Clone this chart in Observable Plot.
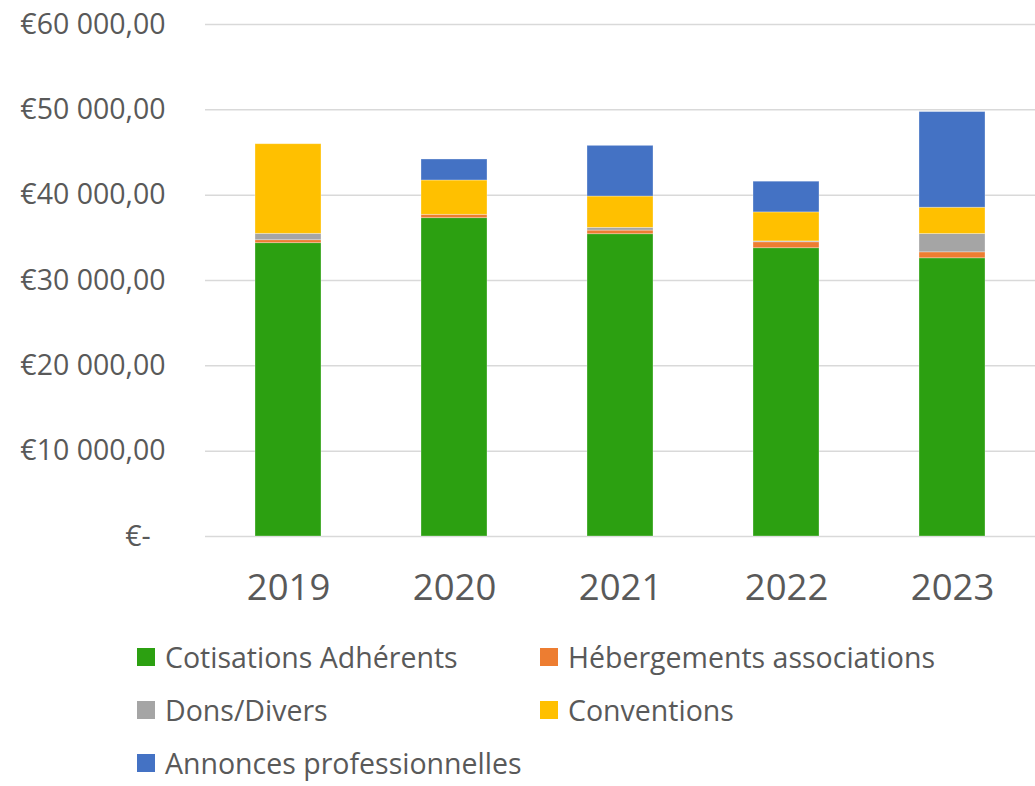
<!DOCTYPE html>
<html><head><meta charset="utf-8">
<script src="https://cdn.jsdelivr.net/npm/d3@7"></script>
<script src="https://cdn.jsdelivr.net/npm/@observablehq/plot@0.6"></script>
<style>
body{margin:0;background:#fff;font-family:"Open Sans",sans-serif;}
#wrap{position:relative;width:1035px;height:786px;}
#legend{position:absolute;left:137px;top:638px;display:grid;grid-template-columns:403px 400px;row-gap:16px;}
.it{display:flex;align-items:center;height:37px;font-size:28.5px;color:#595959;}
.sw{width:18px;height:18px;margin-right:10px;flex:none;}
</style></head>
<body><div id="wrap"><div id="chart"></div><div id="legend"></div></div>
<script>
const years = ["2019","2020","2021","2022","2023"];
const categories = ["Cotisations Adhérents","Hébergements associations","Dons/Divers","Conventions","Annonces professionnelles"];
const colors = ["#2ca011","#ed7d31","#a5a5a5","#ffc000","#4472c4"];
const cotisations = [34370,37300,35420,33780,32600];
const hebergements = [350,400,430,700,700];
const dons = [750,0,320,100,2150];
const conventions = [10500,4020,3670,3400,3080];
const annonces = [0,2460,5940,3600,11210];
const yTicks = [0,10000,20000,30000,40000,50000,60000];

const series = [cotisations,hebergements,dons,conventions,annonces];
const rows = [];
years.forEach((y,i)=>categories.forEach((c,j)=>rows.push({year:y,cat:c,value:series[j][i]})));

const fmt = d => d===0 ? "€-\u00a0\u00a0" : "€" + d3.format(",.2f")(d).replace(/,/g," ").replace(".",",");

const chart = Plot.plot({
  width:1035, height:620,
  marginLeft:205, marginRight:0, marginTop:24, marginBottom:84,
  style:{fontFamily:"'Open Sans', sans-serif", color:"#595959", background:"#fff"},
  x:{domain:years, paddingInner:0.6, paddingOuter:0.3, label:null},
  y:{domain:[0,60000], label:null},
  color:{domain:categories, range:colors},
  marks:[
    Plot.ruleY(yTicks,{stroke:"#d9d9d9",strokeWidth:1.5}),
    Plot.barY(rows,{x:"year",y:"value",fill:"cat",stroke:"#ffffff",strokeOpacity:0.4,strokeWidth:0.75,order:categories}),
    Plot.axisY(yTicks,{tickSize:0,tickPadding:40,tickFormat:fmt,fontSize:28.5,fill:"#595959",label:null}),
    Plot.axisX({tickSize:0,tickPadding:38,fontSize:36.5,fill:"#595959",label:null})
  ]
});
document.getElementById("chart").appendChild(chart);
const lg = document.getElementById("legend");
categories.forEach((c,j)=>{
  const d=document.createElement("div");d.className="it";
  d.innerHTML=`<span class="sw" style="background:${colors[j]}"></span><span>${c}</span>`;
  lg.appendChild(d);
});
</script></body></html>
